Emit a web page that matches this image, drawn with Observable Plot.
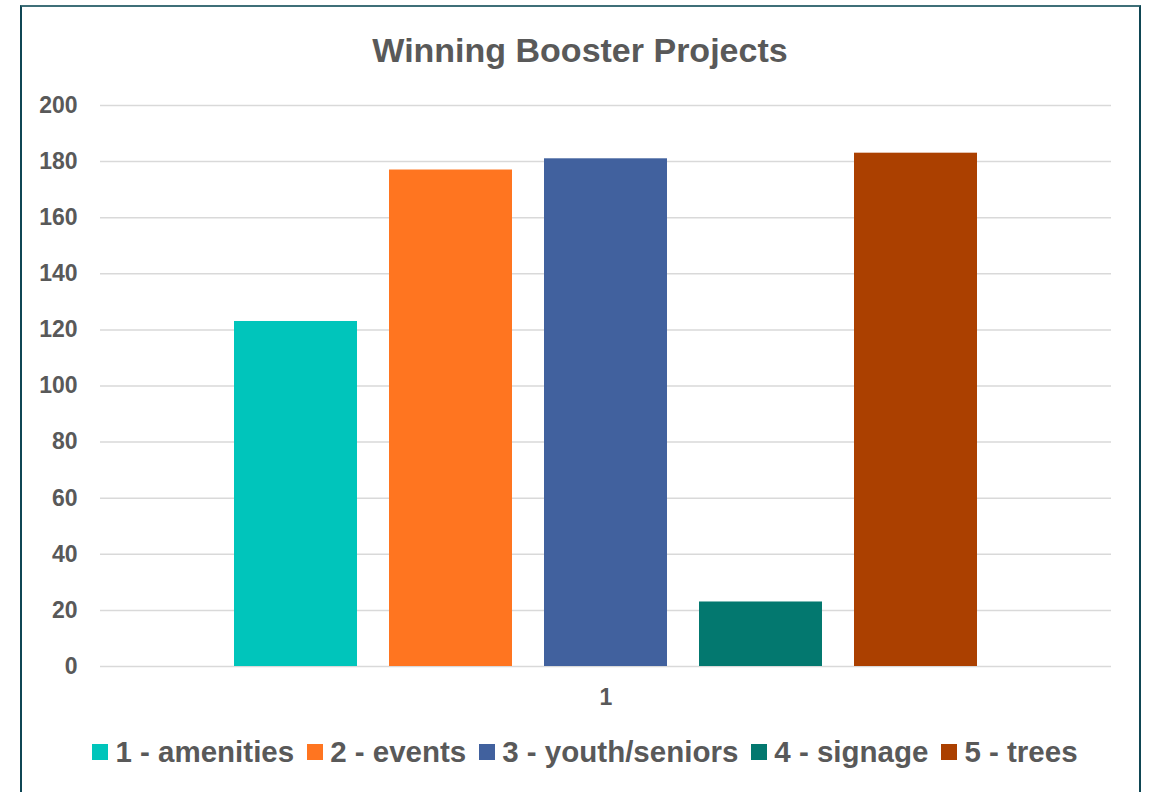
<!DOCTYPE html>
<html>
<head>
<meta charset="utf-8">
<script src="https://cdn.jsdelivr.net/npm/d3@7"></script>
<script src="https://cdn.jsdelivr.net/npm/@observablehq/plot@0.6"></script>
<style>
  html, body { margin: 0; padding: 0; background: #ffffff; }
  body { width: 1150px; height: 792px; overflow: hidden; position: relative; font-family: "Liberation Sans", Arial, sans-serif; }
  #frame { position: absolute; left: 20px; top: 5px; width: 1117px; height: 820px; border: 2px solid #0f4654; border-top-color: #3f6f78; box-sizing: content-box; pointer-events: none; }
  #title { height: 80px; box-sizing: border-box; padding-top: 32px; text-align: center; padding-left: 10px; font-size: 34px; line-height: 36px; font-weight: bold; color: #595959; }
  #chart svg { display: block; }
  #legend { display: flex; justify-content: center; align-items: center; padding-top: 14px; padding-left: 20px; font-size: 29.5px; line-height: 36px; font-weight: bold; color: #595959; }
  .item { display: flex; align-items: center; margin: 0 6.5px; white-space: nowrap; }
  .sw { width: 16px; height: 16px; margin-right: 7px; display: inline-block; }
</style>
</head>
<body>
<div id="frame"></div>
<div id="title">Winning Booster Projects</div>
<div id="chart"></div>
<div id="legend"></div>
<script>
const categories = ["1 - amenities", "2 - events", "3 - youth/seniors", "4 - signage", "5 - trees"];
const values = [123, 177, 181, 23, 183];
const colors = ["#00c5bb", "#ff7520", "#41619e", "#03786f", "#ab4000"];
const yTicks = [0, 20, 40, 60, 80, 100, 120, 140, 160, 180, 200];
const xLabels = ["1"];

const data = categories.map((c, i) => ({category: c, value: values[i]}));

const chart = Plot.plot({
  width: 1150,
  height: 640,
  marginTop: 25,
  marginBottom: 54,
  marginLeft: 100,
  marginRight: 39,
  style: {fontFamily: "'Liberation Sans', Arial, sans-serif", fontSize: "23px", fontWeight: "bold", color: "#595959", background: "transparent"},
  x: {type: "band", domain: categories, range: [201, 1010], padding: 0.208, axis: null},
  y: {domain: [0, 200], ticks: yTicks, tickSize: 0, tickPadding: 23, label: null, tickFormat: d => String(d)},
  color: {domain: categories, range: colors},
  marks: [
    Plot.ruleY(yTicks, {stroke: "#d9d9d9", strokeWidth: 1.5}),
    Plot.barY(data, {x: "category", y: "value", fill: "category"}),
    Plot.text(xLabels, {frameAnchor: "bottom", dy: 38, text: d => d, fontSize: 23, fontWeight: "bold", fill: "#595959"})
  ]
});
document.getElementById("chart").appendChild(chart);

const legend = document.getElementById("legend");
categories.forEach((c, i) => {
  const item = document.createElement("div");
  item.className = "item";
  const sw = document.createElement("span");
  sw.className = "sw";
  sw.style.background = colors[i];
  const label = document.createElement("span");
  label.textContent = c;
  item.appendChild(sw);
  item.appendChild(label);
  legend.appendChild(item);
});
</script>
</body>
</html>
